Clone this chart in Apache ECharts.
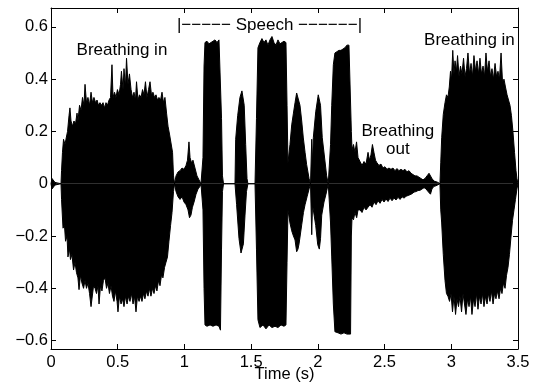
<!DOCTYPE html>
<html>
<head>
<meta charset="utf-8">
<script src="https://cdn.jsdelivr.net/npm/echarts@6/dist/echarts.min.js"></script>
<style>html,body{margin:0;padding:0;background:#fff}#c{width:539px;height:385px}</style>
</head>
<body>
<div id="c"></div>
<script>
// x ticks (seconds) and y ticks
var xTicks = [0, 0.5, 1, 1.5, 2, 2.5, 3, 3.5];
var yTicks = [-0.6, -0.4, -0.2, 0, 0.2, 0.4, 0.6];
var xName = 'Time (s)';

// Annotations: text, time, amplitude
var annText = ['Breathing in', '|\u2212\u2212\u2212\u2212\u2212 Speech \u2212\u2212\u2212\u2212\u2212\u2212|', 'Breathing in', 'Breathing\nout'];
var annT = [0.532, 1.6375, 3.136, 2.60];
var annV = [0.509, 0.606, 0.550, 0.165];

// Upper envelope of the waveform [time, amplitude]
var upperEnv = [
[0,0],[0.0075,0.02],[0.019,0.02],[0.030,0.005],[0.0375,0],[0.075,0],[0.079,0.05],[0.086,0.12],[0.094,0.17],[0.105,0.15],[0.112,0.17],[0.124,0.2],[0.135,0.26],[0.142,0.29],[0.150,0.24],[0.161,0.22],[0.172,0.24],[0.184,0.23],[0.195,0.27],[0.202,0.24],[0.214,0.30],[0.225,0.28],[0.236,0.33],[0.247,0.30],[0.255,0.38],[0.266,0.31],[0.277,0.33],[0.289,0.30],[0.300,0.35],[0.311,0.31],[0.322,0.33],[0.334,0.31],[0.345,0.32],[0.356,0.30],[0.367,0.31],[0.378,0.30],[0.390,0.31],[0.401,0.29],[0.412,0.31],[0.423,0.30],[0.435,0.32],[0.446,0.33],[0.457,0.455],[0.465,0.33],[0.476,0.35],[0.487,0.33],[0.498,0.36],[0.510,0.34],[0.521,0.38],[0.528,0.43],[0.540,0.36],[0.547,0.44],[0.558,0.37],[0.566,0.48],[0.577,0.38],[0.588,0.42],[0.600,0.36],[0.611,0.33],[0.622,0.35],[0.633,0.32],[0.641,0.39],[0.652,0.32],[0.663,0.34],[0.675,0.33],[0.686,0.36],[0.697,0.34],[0.708,0.39],[0.719,0.33],[0.731,0.36],[0.742,0.39],[0.753,0.34],[0.764,0.35],[0.776,0.33],[0.787,0.34],[0.798,0.32],[0.809,0.33],[0.821,0.32],[0.832,0.35],[0.843,0.31],[0.854,0.33],[0.866,0.27],[0.877,0.22],[0.888,0.19],[0.899,0.19],[0.911,0.12],[0.918,0.03],[0.926,0],
[0.937,0.03],[0.952,0.045],[0.967,0.05],[0.982,0.06],[0.997,0.055],[1.012,0.07],[1.023,0.09],[1.034,0.16],[1.042,0.1],[1.053,0.08],[1.064,0.09],[1.079,0.06],[1.094,0.03],[1.109,0.015],[1.124,0],
[1.132,0],[1.139,0.1],[1.147,0.45],[1.154,0.54],[1.169,0.545],[1.184,0.535],[1.199,0.54],[1.214,0.545],[1.229,0.55],[1.244,0.54],[1.259,0.55],[1.270,0.545],[1.278,0.25],[1.285,0.03],[1.293,0],
[1.379,0],[1.384,0.17],[1.399,0.26],[1.416,0.33],[1.431,0.355],[1.439,0.35],[1.448,0.3],[1.459,0.15],[1.469,0.02],[1.476,0],
[1.529,0],[1.540,0.25],[1.551,0.52],[1.566,0.54],[1.581,0.555],[1.596,0.54],[1.611,0.55],[1.626,0.53],[1.641,0.55],[1.656,0.563],[1.671,0.54],[1.686,0.53],[1.701,0.55],[1.716,0.535],[1.731,0.54],[1.746,0.545],[1.761,0.54],[1.769,0.3],[1.776,0.08],
[1.791,0.15],[1.804,0.225],[1.817,0.27],[1.829,0.31],[1.841,0.347],[1.851,0.34],[1.866,0.3],[1.879,0.24],[1.891,0.175],[1.904,0.12],[1.916,0.073],[1.934,0.02],[1.945,0],
[1.950,0],[1.954,0.17],[1.960,0.08],[1.966,0.176],[1.984,0.275],[2.003,0.34],[2.011,0.345],[2.020,0.3],[2.033,0.176],[2.048,0.11],[2.066,0.03],[2.078,0],
[2.084,0],[2.095,0.15],[2.104,0.3],[2.116,0.455],[2.128,0.5],[2.143,0.505],[2.158,0.51],[2.173,0.51],[2.188,0.515],[2.203,0.52],[2.218,0.53],[2.233,0.53],[2.245,0.535],[2.251,0.2],[2.256,0.13],
[2.267,0.15],[2.278,0.12],[2.290,0.16],[2.301,0.1],[2.316,0.085],[2.331,0.07],[2.346,0.085],[2.361,0.075],[2.376,0.12],[2.387,0.09],[2.398,0.11],[2.409,0.15],[2.421,0.118],[2.432,0.09],[2.443,0.08],[2.458,0.07],[2.473,0.075],[2.488,0.06],[2.503,0.065],[2.518,0.055],[2.533,0.06],[2.548,0.055],[2.563,0.06],[2.578,0.05],[2.593,0.058],[2.608,0.05],[2.623,0.055],[2.638,0.05],[2.653,0.055],[2.668,0.045],[2.683,0.05],[2.698,0.04],[2.713,0.035],[2.728,0.03],[2.743,0.03],[2.758,0.025],[2.773,0.02],[2.788,0.015],[2.803,0.02],[2.818,0.03],[2.833,0.04],[2.844,0.046],[2.855,0.02],[2.870,0.01],[2.885,0.008],[2.900,0.005],[2.915,0],
[2.921,0.08],[2.928,0.176],[2.940,0.265],[2.953,0.31],[2.964,0.34],[2.975,0.33],[2.985,0.37],[2.994,0.43],[3.002,0.4],[3.011,0.51],[3.020,0.42],[3.028,0.47],[3.039,0.43],[3.047,0.49],[3.058,0.41],[3.069,0.45],[3.080,0.42],[3.092,0.48],[3.103,0.41],[3.114,0.44],[3.125,0.5],[3.137,0.42],[3.148,0.46],[3.159,0.41],[3.170,0.49],[3.182,0.43],[3.193,0.47],[3.204,0.42],[3.215,0.48],[3.226,0.42],[3.238,0.45],[3.249,0.41],[3.260,0.5],[3.271,0.43],[3.283,0.47],[3.294,0.41],[3.305,0.44],[3.316,0.40],[3.328,0.46],[3.339,0.41],[3.350,0.43],[3.361,0.40],[3.373,0.5],[3.384,0.39],[3.395,0.40],[3.406,0.37],[3.418,0.34],[3.429,0.32],[3.440,0.30],[3.451,0.26],[3.462,0.2],[3.474,0.12],[3.485,0.05],[3.492,0.02],[3.5,0]
];

// Lower envelope of the waveform [time, amplitude]
var lowerEnv = [
[0,0],[0.0075,-0.02],[0.019,-0.02],[0.030,-0.005],[0.0375,0],[0.075,0],[0.079,-0.06],[0.090,-0.17],[0.101,-0.16],[0.109,-0.22],[0.120,-0.2],[0.127,-0.28],[0.139,-0.25],[0.146,-0.29],[0.157,-0.27],[0.169,-0.33],[0.180,-0.3],[0.191,-0.34],[0.202,-0.36],[0.210,-0.405],[0.221,-0.35],[0.232,-0.38],[0.244,-0.40],[0.255,-0.37],[0.266,-0.40],[0.277,-0.38],[0.289,-0.42],[0.300,-0.47],[0.307,-0.475],[0.319,-0.39],[0.330,-0.40],[0.341,-0.42],[0.352,-0.39],[0.360,-0.46],[0.371,-0.39],[0.382,-0.41],[0.393,-0.37],[0.405,-0.36],[0.416,-0.40],[0.427,-0.38],[0.438,-0.42],[0.450,-0.39],[0.461,-0.43],[0.472,-0.45],[0.483,-0.41],[0.495,-0.45],[0.502,-0.49],[0.513,-0.43],[0.525,-0.46],[0.536,-0.44],[0.547,-0.47],[0.558,-0.43],[0.570,-0.46],[0.581,-0.43],[0.592,-0.45],[0.603,-0.42],[0.615,-0.46],[0.626,-0.43],[0.637,-0.49],[0.648,-0.43],[0.660,-0.45],[0.671,-0.43],[0.682,-0.45],[0.693,-0.42],[0.704,-0.44],[0.716,-0.41],[0.727,-0.43],[0.738,-0.40],[0.749,-0.43],[0.761,-0.40],[0.772,-0.42],[0.783,-0.39],[0.794,-0.41],[0.806,-0.37],[0.817,-0.39],[0.828,-0.35],[0.839,-0.36],[0.851,-0.32],[0.862,-0.30],[0.873,-0.28],[0.884,-0.22],[0.896,-0.16],[0.907,-0.11],[0.918,-0.03],[0.926,0],
[0.937,-0.03],[0.952,-0.05],[0.967,-0.06],[0.982,-0.05],[0.997,-0.07],[1.012,-0.08],[1.027,-0.1],[1.038,-0.13],[1.049,-0.12],[1.060,-0.09],[1.072,-0.07],[1.087,-0.04],[1.102,-0.02],[1.117,-0.01],[1.124,0],
[1.132,0],[1.139,-0.1],[1.147,-0.4],[1.154,-0.54],[1.169,-0.545],[1.192,-0.54],[1.214,-0.545],[1.237,-0.54],[1.259,-0.545],[1.270,-0.56],[1.278,-0.25],[1.285,-0.03],[1.293,0],
[1.379,0],[1.391,-0.08],[1.409,-0.21],[1.424,-0.265],[1.435,-0.26],[1.442,-0.23],[1.454,-0.12],[1.465,-0.03],[1.476,0],
[1.529,0],[1.540,-0.25],[1.551,-0.52],[1.566,-0.55],[1.589,-0.54],[1.611,-0.555],[1.634,-0.54],[1.656,-0.55],[1.679,-0.545],[1.701,-0.55],[1.724,-0.54],[1.746,-0.545],[1.761,-0.54],[1.769,-0.3],[1.776,-0.1],
[1.791,-0.15],[1.804,-0.18],[1.817,-0.2],[1.829,-0.215],[1.841,-0.26],[1.851,-0.25],[1.859,-0.23],[1.879,-0.157],[1.892,-0.11],[1.904,-0.08],[1.919,-0.05],[1.934,-0.02],[1.945,0],
[1.950,0],[1.954,-0.195],[1.960,-0.08],[1.966,-0.08],[1.984,-0.16],[1.999,-0.233],[2.011,-0.25],[2.020,-0.21],[2.029,-0.12],[2.046,-0.07],[2.061,-0.04],[2.078,0],
[2.084,0],[2.095,-0.15],[2.104,-0.28],[2.116,-0.46],[2.128,-0.566],[2.151,-0.57],[2.173,-0.575],[2.196,-0.57],[2.218,-0.575],[2.245,-0.575],[2.251,-0.2],[2.256,-0.13],
[2.267,-0.138],[2.278,-0.11],[2.291,-0.13],[2.301,-0.1],[2.316,-0.1],[2.331,-0.11],[2.346,-0.09],[2.361,-0.1],[2.376,-0.09],[2.391,-0.08],[2.406,-0.09],[2.421,-0.07],[2.436,-0.08],[2.451,-0.065],[2.466,-0.075],[2.481,-0.06],[2.496,-0.07],[2.511,-0.058],[2.526,-0.068],[2.541,-0.055],[2.556,-0.065],[2.571,-0.055],[2.586,-0.062],[2.601,-0.052],[2.616,-0.06],[2.631,-0.05],[2.646,-0.055],[2.661,-0.048],[2.676,-0.045],[2.691,-0.042],[2.706,-0.038],[2.721,-0.032],[2.736,-0.03],[2.751,-0.026],[2.766,-0.025],[2.781,-0.02],[2.796,-0.015],[2.811,-0.02],[2.826,-0.03],[2.844,-0.04],[2.855,-0.02],[2.870,-0.01],[2.885,-0.008],[2.915,0],
[2.921,-0.1],[2.928,-0.15],[2.940,-0.27],[2.953,-0.37],[2.964,-0.42],[2.975,-0.43],[2.987,-0.45],[2.998,-0.42],[3.009,-0.49],[3.020,-0.43],[3.032,-0.5],[3.043,-0.44],[3.054,-0.47],[3.065,-0.43],[3.077,-0.49],[3.088,-0.42],[3.099,-0.46],[3.110,-0.5],[3.122,-0.44],[3.133,-0.47],[3.144,-0.43],[3.155,-0.5],[3.167,-0.44],[3.178,-0.47],[3.189,-0.42],[3.200,-0.48],[3.211,-0.43],[3.223,-0.46],[3.234,-0.42],[3.245,-0.47],[3.256,-0.43],[3.268,-0.46],[3.279,-0.42],[3.290,-0.45],[3.301,-0.41],[3.313,-0.46],[3.324,-0.42],[3.335,-0.44],[3.346,-0.41],[3.358,-0.44],[3.369,-0.40],[3.380,-0.42],[3.391,-0.38],[3.403,-0.40],[3.414,-0.35],[3.425,-0.32],[3.436,-0.27],[3.448,-0.2],[3.459,-0.14],[3.470,-0.1],[3.481,-0.06],[3.492,-0.02],[3.5,0]
];

var FONT = '"Liberation Sans", Arial, Helvetica, sans-serif';
var chart = echarts.init(document.getElementById('c'), null, {renderer: 'canvas'});

function fmtY(v) {
  if (Math.abs(v) < 1e-9) return '0';
  var s = Math.abs(v).toFixed(1);
  return (v < 0 ? '\u2212' : '') + s;
}

var annData = annText.map(function (t, i) { return {name: t, value: [annT[i], annV[i]]}; });

var yCommon = {
  type: 'value', min: -0.632, max: 0.672,
  splitLine: {show: false},
  axisLine: {show: true, onZero: false, lineStyle: {color: '#000', width: 1}},
  axisTick: {show: true, inside: true, length: 5, customValues: yTicks, lineStyle: {color: '#000'}}
};
var xCommon = {
  type: 'value', min: xTicks[0], max: xTicks[xTicks.length - 1], interval: 0.5,
  splitLine: {show: false},
  axisLine: {show: true, onZero: false, lineStyle: {color: '#000', width: 1}},
  axisTick: {show: true, inside: true, length: 5, lineStyle: {color: '#000'}}
};

chart.setOption({
  animation: false,
  backgroundColor: '#fff',
  grid: {left: 51, right: 21, top: 8, bottom: 36, containLabel: false, outerBoundsMode: 'none'},
  xAxis: [
    Object.assign({}, xCommon, {
      position: 'bottom',
      name: xName, nameLocation: 'middle', nameGap: 17, nameMoveOverlap: false,
      nameTextStyle: {color: '#000', fontSize: 16.5, fontFamily: FONT, verticalAlign: 'top'},
      axisLabel: {show: true, color: '#000', fontSize: 16.5, fontFamily: FONT, margin: 5,
        formatter: function (v) { return String(v); }}
    }),
    Object.assign({}, xCommon, {position: 'top', axisLabel: {show: false}})
  ],
  yAxis: [
    Object.assign({}, yCommon, {
      position: 'left',
      axisLabel: {show: true, color: '#000', fontSize: 16.5, fontFamily: FONT, margin: 3,
        customValues: yTicks, formatter: fmtY}
    }),
    Object.assign({}, yCommon, {position: 'right', axisLabel: {show: false}})
  ],
  series: [
    {
      type: 'line', data: upperEnv, showSymbol: false, symbol: 'none',
      lineStyle: {color: '#000', width: 1}, areaStyle: {color: '#000', opacity: 1, origin: 0},
      silent: true, z: 2
    },
    {
      type: 'line', data: lowerEnv, showSymbol: false, symbol: 'none',
      lineStyle: {color: '#000', width: 1}, areaStyle: {color: '#000', opacity: 1, origin: 0},
      silent: true, z: 2
    },
    {
      type: 'scatter', data: annData, symbolSize: 0, silent: true, z: 5,
      itemStyle: {opacity: 1, color: '#000'},
      label: {show: true, position: 'inside', formatter: '{b}', color: '#000', opacity: 1,
        textBorderWidth: 0, textShadowBlur: 0,
        fontSize: 17, fontFamily: FONT, lineHeight: 18, align: 'center', verticalAlign: 'middle'}
    }
  ]
});
</script>
</body>
</html>
